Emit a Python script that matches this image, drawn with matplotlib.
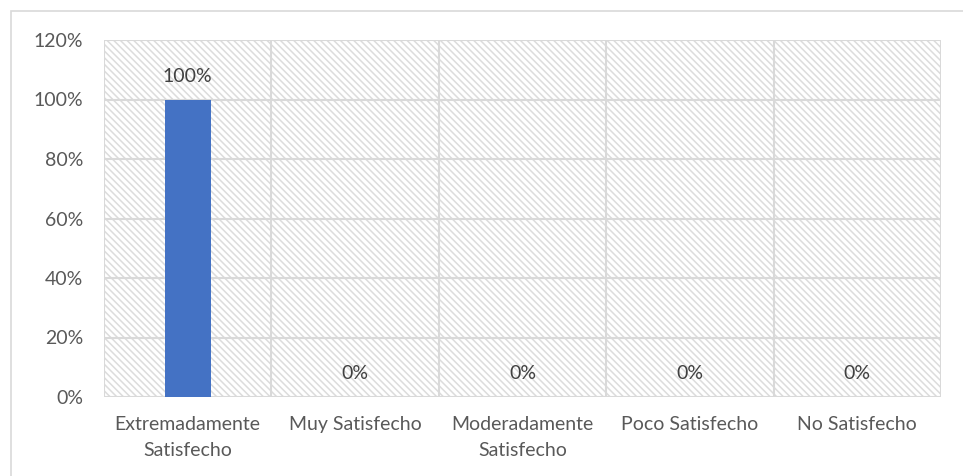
import matplotlib
matplotlib.use("Agg")
from matplotlib import pyplot as plt
from matplotlib.patches import Rectangle
from matplotlib.ticker import MultipleLocator, FuncFormatter

categories = ["Extremadamente\nSatisfecho", "Muy Satisfecho", "Moderadamente\nSatisfecho",
              "Poco Satisfecho", "No Satisfecho"]
values = [100, 0, 0, 0, 0]
labels = ["100%", "0%", "0%", "0%", "0%"]

plt.rcParams["font.family"] = ["Lato", "DejaVu Sans"]
plt.rcParams["hatch.linewidth"] = 1.1
plt.rcParams["hatch.color"] = "#dcdcdc"

text_col = "#595959"
grid_col = "#d9d9d9"

fig = plt.figure(figsize=(9.63, 4.76), dpi=100)
# outer chart border
fig.patches.append(Rectangle((11 / 963, -0.1), 1.2, (476 - 11) / 476 + 0.1,
                             transform=fig.transFigure, fill=False,
                             edgecolor=grid_col, linewidth=1.2))
ax = fig.add_axes([104 / 963, 79 / 476, 837 / 963, 357 / 476])

x = list(range(len(categories)))
ax.set_xlim(-0.5, len(categories) - 0.5)
ax.set_ylim(0, 120)

# hatched plot area
ax.add_patch(Rectangle((0, 0), 1, 1, transform=ax.transAxes, facecolor="white",
                       hatch="\\" * 5, edgecolor="#dcdcdc", linewidth=0, zorder=0))

for v in range(20, 140, 20):
    ax.axhline(v, color=grid_col, linewidth=1.5, zorder=1)
for b in [i + 0.5 for i in range(-1, len(categories))]:
    ax.axvline(b, color=grid_col, linewidth=1.5, zorder=1)

ax.bar(x, values, width=0.275, color="#4472c4", zorder=3)
for xi, v, lab in zip(x, values, labels):
    ax.text(xi, v + 5, lab, ha="center", va="bottom", color="#404040", fontsize=14, zorder=4)

for s in ax.spines.values():
    s.set_visible(False)
ax.axhline(0, color=grid_col, linewidth=1.5, zorder=2)

ax.yaxis.set_major_locator(MultipleLocator(20))
ax.yaxis.set_major_formatter(FuncFormatter(lambda v, p: f"{int(v)}%"))
ax.set_xticks(x)
ax.set_xticklabels(categories, linespacing=1.6, fontsize=14)
ax.tick_params(axis="both", length=0, labelsize=14, colors=text_col)
ax.tick_params(axis="y", pad=15)
ax.tick_params(axis="x", pad=14)

plt.savefig("out.png", dpi=100)
